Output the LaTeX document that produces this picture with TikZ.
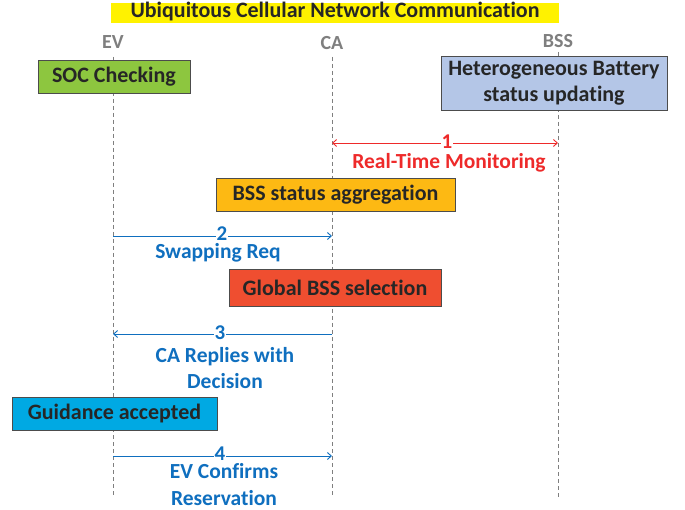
\documentclass[tikz,border=0pt]{standalone}
\usepackage{fontspec}
\setmainfont{Carlito}[Ligatures={NoCommon}]
\usetikzlibrary{arrows.meta}
\definecolor{lifegray}{HTML}{7F7F7F}
\definecolor{msgred}{HTML}{EE2A2A}
\definecolor{msgblue}{HTML}{0F6FBF}
\definecolor{socgreen}{HTML}{8DC63F}
\definecolor{bsblue}{HTML}{B4C6E7}
\definecolor{aggorange}{HTML}{FDB913}
\definecolor{selred}{HTML}{EF4E30}
\definecolor{guidecyan}{HTML}{00A9E3}
\definecolor{titleyellow}{HTML}{FFF200}
\tikzset{
  every node/.style={font=\bfseries},
  lifeline/.style={draw=lifegray, dashed, line width=0.6pt, dash pattern=on 4pt off 3pt},
  actor/.style={text=lifegray, font=\bfseries\fontsize{20}{22}\selectfont},
  stepbox/.style={draw=black!70, line width=0.8pt, inner sep=0pt, text=black!85,
    font=\bfseries\fontsize{22}{26}\selectfont},
  msg/.style={line width=0.9pt, -{Straight Barb[length=4pt,width=7pt]}},
  num/.style={fill=white, inner xsep=1pt, inner ysep=0pt, anchor=base,
    text height=13.5pt, text depth=0pt,
    font=\bfseries\fontsize{21}{22}\selectfont},
  msglabel/.style={align=center, anchor=base, inner sep=0pt,
    font=\bfseries\fontsize{21.5}{26.5}\selectfont},
}
\begin{document}
\begin{tikzpicture}[x=1pt,y=-1pt]
\useasboundingbox (0,0) rectangle (685,510);
\fill[white] (0,0) rectangle (685,510);

% title banner
\node[fill=titleyellow, minimum width=448pt, minimum height=20pt, inner sep=0pt,
  text height=15pt, text depth=5pt,
  font=\bfseries\fontsize{22}{22}\selectfont, text=black!85] (title) at (335,13)
  {Ubiquitous Cellular Network Communication};

% actors and their lifelines
\node[actor] (ev) at (113,42) {EV};
\node[actor] (ca) at (332,43) {CA};
\node[actor] (bss) at (558,41) {BSS};
\coordinate (evtop) at (113,57);
\coordinate (catop) at (332,57);
\coordinate (bsstop) at (558,52);
\coordinate (evbot) at (113,497);
\coordinate (cabot) at (332,497);
\coordinate (bssbot) at (558,497);
\draw[lifeline] (evtop) -- (evbot);
\draw[lifeline] (catop) -- (cabot);
\draw[lifeline] (bsstop) -- (bssbot);

% activity boxes
\node[stepbox, fill=socgreen, minimum width=152pt, minimum height=33pt] (soc) at (114,76.5) {SOC Checking};
\node[stepbox, fill=bsblue, minimum width=226pt, minimum height=54pt, align=center] (hb) at (554,83)
  {Heterogeneous Battery\\status updating};
\node[stepbox, fill=aggorange, minimum width=239pt, minimum height=33pt] (agg) at (335.5,194.5) {BSS status aggregation};
\node[stepbox, fill=selred, minimum width=212pt, minimum height=37pt] (sel) at (335,287.5) {Global BSS selection};
\node[stepbox, fill=guidecyan, minimum width=205pt, minimum height=33pt] (guide) at (114.5,413.5) {Guidance accepted};

% message 1: CA <-> BSS
\coordinate (m1a) at (332,143);
\coordinate (m1b) at (558,143);
\draw[msg, msgred, {Straight Barb[length=4pt,width=7pt]}-{Straight Barb[length=4pt,width=7pt]}] (m1a) -- (m1b);
\node[num, text=msgred] (n1) at (447,149) {1};
\node[msglabel, text=msgred] (l1) at (449,169) {Real-Time Monitoring};

% message 2: EV -> CA
\coordinate (m2a) at (113,236);
\coordinate (m2b) at (332,236);
\draw[msg, msgblue] (m2a) -- (m2b);
\node[num, text=msgblue] (n2) at (222,240.5) {2};
\node[msglabel, text=msgblue] (l2) at (218,259) {Swapping Req};

% message 3: CA -> EV
\coordinate (m3a) at (332,334);
\coordinate (m3b) at (113,334);
\draw[msg, msgblue] (m3a) -- (m3b);
\node[num, text=msgblue] (n3) at (220,340) {3};
\node[msglabel, text=msgblue] (l3) at (225,388.5) {CA Replies with\\Decision};

% message 4: EV -> CA
\coordinate (m4a) at (113,456);
\coordinate (m4b) at (332,456);
\draw[msg, msgblue] (m4a) -- (m4b);
\node[num, text=msgblue] (n4) at (220,460.5) {4};
\node[msglabel, text=msgblue] (l4) at (224,505) {EV Confirms\\Reservation};
\end{tikzpicture}
\end{document}
